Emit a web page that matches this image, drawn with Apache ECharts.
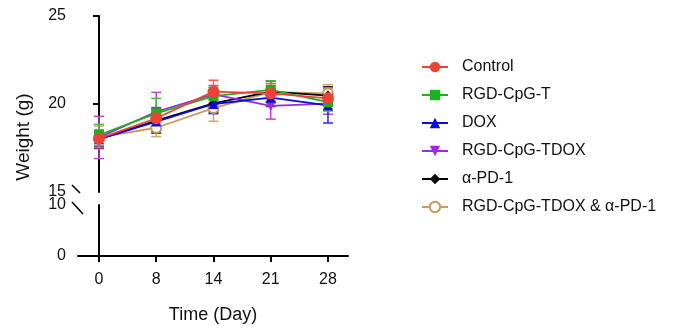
<!DOCTYPE html>
<html>
<head>
<meta charset="utf-8">
<script src="https://cdn.jsdelivr.net/npm/echarts@6/dist/echarts.min.js"></script>
<style>
  html, body { margin: 0; padding: 0; background: #fff; }
  #chart { width: 673px; height: 329px; }
</style>
</head>
<body>
<div id="chart"></div>
<script>
// time points (plotted equally spaced)
const days = ['0', '8', '14', '21', '28'];

const groupNames = ['Control', 'RGD-CpG-T', 'DOX', 'RGD-CpG-TDOX', 'α-PD-1', 'RGD-CpG-TDOX & α-PD-1'];

// mean weight (g)
const controlMean = [18.03, 19.19, 20.70, 20.60, 20.32];
const cpgMean     = [18.24, 19.47, 20.45, 20.80, 20.10];
const doxMean     = [18.00, 19.00, 20.00, 20.36, 19.92];
const tdoxMean    = [18.10, 19.56, 20.55, 19.89, 20.02];
const pd1Mean     = [18.00, 19.05, 20.04, 20.70, 20.48];
const comboMean   = [18.10, 18.65, 19.77, 20.68, 20.60];

// error (g)
const controlErr = [0.50, 0.50, 0.65, 0.55, 0.60];
const cpgErr     = [0.60, 0.85, 0.50, 0.50, 0.50];
const doxErr     = [0.40, 0.50, 0.55, 0.50, 1.00];
const tdoxErr    = [1.20, 1.10, 0.50, 0.75, 0.60];
const pd1Err     = [0.50, 0.70, 0.50, 0.60, 0.50];
const comboErr   = [0.65, 0.50, 0.75, 0.50, 0.50];

const yUpperTicks = [15, 20, 25];
const yLowerTicks = [0, 10];

const groups = [
  { mean: controlMean, err: controlErr, color: '#EE4238', bar: '#F0605A', symbol: 'circle', size: 12 },
  { mean: cpgMean, err: cpgErr, color: '#1DB01D', bar: '#40C040', symbol: 'rect', size: 10 },
  { mean: doxMean, err: doxErr, color: '#0A0AE0', bar: '#2A2AE8', symbol: 'triangle', size: 10 },
  { mean: tdoxMean, err: tdoxErr, color: '#A626E0', bar: '#C040D8', symbol: 'triangle', size: 10, rotate: 180 },
  { mean: pd1Mean, err: pd1Err, color: '#000000', bar: '#202020', symbol: 'diamond', size: 10 },
  { mean: comboMean, err: comboErr, color: '#C99A5B', bar: '#D0A868', symbol: 'emptyCircle', size: 10 }
];

const chart = echarts.init(document.getElementById('chart'), null, { renderer: 'canvas' });

const font = 'Liberation Sans, Arial, sans-serif';
const xMin = -0.367, xMax = 4.35;

function errorRender(color) {
  return function (params, api) {
    const x = api.value(0);
    const top = api.coord([x, api.value(2)]);
    const bot = api.coord([x, api.value(1)]);
    const w = 5;
    const style = { stroke: color, lineWidth: 1.5 };
    return {
      type: 'group',
      children: [
        { type: 'line', shape: { x1: top[0], y1: top[1], x2: bot[0], y2: bot[1] }, style: style },
        { type: 'line', shape: { x1: top[0] - w, y1: top[1], x2: top[0] + w, y2: top[1] }, style: style },
        { type: 'line', shape: { x1: bot[0] - w, y1: bot[1], x2: bot[0] + w, y2: bot[1] }, style: style }
      ]
    };
  };
}

const series = [];
// draw in reverse order so Control ends on top
for (let g = groups.length - 1; g >= 0; g--) {
  const grp = groups[g];
  series.push({
    type: 'custom',
    name: groupNames[g] + ' err',
    xAxisIndex: 0, yAxisIndex: 0,
    renderItem: errorRender(grp.bar),
    data: grp.mean.map((m, i) => [i, m - grp.err[i], m + grp.err[i]]),
    z: 2,
    silent: true
  });
}
for (let g = groups.length - 1; g >= 0; g--) {
  const grp = groups[g];
  series.push({
    type: 'line',
    name: groupNames[g],
    xAxisIndex: 0, yAxisIndex: 0,
    data: grp.mean.map((m, i) => [i, m]),
    symbol: grp.symbol,
    symbolSize: grp.size,
    symbolRotate: grp.rotate || 0,
    showAllSymbol: true,
    lineStyle: { color: grp.color, width: 1.8 },
    itemStyle: { color: grp.color, borderColor: grp.color, borderWidth: grp.symbol === 'emptyCircle' ? 1.6 : 0 },
    z: 3 + (groups.length - g)
  });
}

const axisLine = { show: true, lineStyle: { color: '#000', width: 2 } };
const axisTick = { show: true, length: 6, lineStyle: { color: '#000', width: 2 } };

const option = {
  backgroundColor: '#fff',
  animation: false,
  legend: {
    orient: 'vertical',
    left: 421,
    top: 58,
    padding: 0,
    itemWidth: 26,
    itemHeight: 13,
    itemGap: 10,
    data: groupNames,
    textStyle: { fontFamily: font, fontSize: 16, lineHeight: 18, color: '#111', padding: [0, 0, 0, 9] }
  },
  grid: [
    { left: 78, top: 16, width: 270, height: 176 },
    { left: 78, top: 205, width: 270, height: 51 }
  ],
  xAxis: [
    {
      type: 'value', gridIndex: 0, min: xMin, max: xMax,
      show: false
    },
    {
      type: 'value', gridIndex: 1, min: xMin, max: xMax,
      axisLine: axisLine,
      axisTick: Object.assign({ customValues: [0, 1, 2, 3, 4] }, axisTick),
      splitLine: { show: false },
      axisLabel: {
        customValues: [0, 1, 2, 3, 4],
        formatter: v => days[Math.round(v)],
        fontFamily: font, fontSize: 16, color: '#111', margin: 16
      },
      name: 'Time (Day)',
      nameLocation: 'middle',
      nameGap: 50,
      nameTextStyle: { fontFamily: font, fontSize: 18, color: '#111' }
    }
  ],
  yAxis: [
    {
      type: 'value', gridIndex: 0, min: 15, max: 25,
      axisLine: axisLine,
      axisTick: Object.assign({ customValues: yUpperTicks.slice(1) }, axisTick),
      splitLine: { show: false },
      axisLabel: {
        customValues: yUpperTicks,
        fontFamily: font, fontSize: 16, color: '#111', margin: 12
      }
    },
    {
      type: 'value', gridIndex: 1, min: 0, max: 10,
      axisLine: axisLine,
      axisTick: Object.assign({ customValues: [0] }, axisTick),
      splitLine: { show: false },
      axisLabel: {
        customValues: yLowerTicks,
        fontFamily: font, fontSize: 16, color: '#111', margin: 12
      }
    }
  ],
  graphic: [
    // axis break marks
    { type: 'line', shape: { x1: 72, y1: 185, x2: 80, y2: 193 }, style: { stroke: '#000', lineWidth: 1.6 } },
    { type: 'line', shape: { x1: 72, y1: 202, x2: 83, y2: 214 }, style: { stroke: '#000', lineWidth: 1.6 } },
    {
      type: 'text',
      rotation: Math.PI / 2,
      x: 24, y: 137,
      style: { text: 'Weight (g)', font: '19px ' + font, fill: '#111', textAlign: 'center', textVerticalAlign: 'middle' }
    }
  ],
  series: series
};

chart.setOption(option);
</script>
</body>
</html>
